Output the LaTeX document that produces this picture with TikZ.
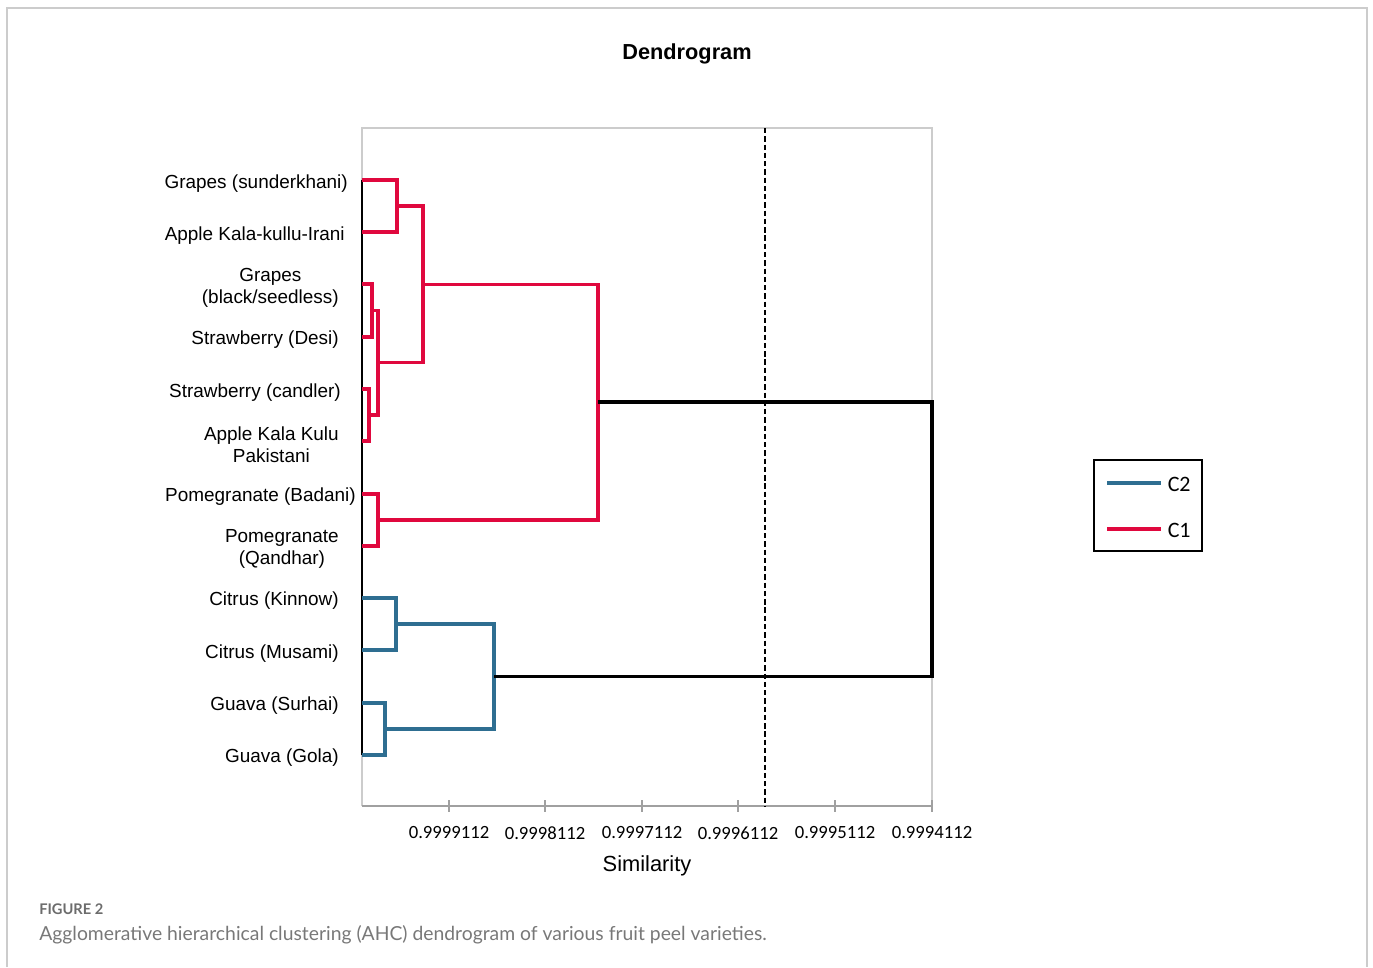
\documentclass[tikz,border=0pt]{standalone}
\usepackage{fontspec}
\setmainfont{Liberation Sans}
\newfontfamily\calfont{Carlito}
\newfontfamily\capfont{Lato}
\usepackage{tikz}
\usetikzlibrary{positioning}
\definecolor{cred}{RGB}{224,8,62}
\definecolor{cblue}{RGB}{46,110,145}
\definecolor{framegray}{RGB}{204,204,204}
\definecolor{axisgray}{RGB}{160,160,160}
\definecolor{capgray}{RGB}{120,120,120}

\begin{document}
\begin{tikzpicture}[x=0.75pt,y=-0.75pt,
  leaf/.style={anchor=east,inner sep=0pt,align=center,font=\fontsize{14.2}{16.5}\selectfont},
  redlink/.style={draw=cred,line width=2.6pt},
  bluelink/.style={draw=cblue,line width=2.6pt},
  rootlink/.style={draw=black,line width=2.6pt},
  ticklabel/.style={font=\calfont\fontsize{14}{16}\selectfont},
  legtext/.style={anchor=west,inner sep=0pt,font=\calfont\fontsize{16.5}{18}\selectfont}]

\useasboundingbox (0,0) rectangle (1373,967);
\draw[framegray,line width=1.5pt] (7,967) -- (7,8) -- (1367,8) -- (1367,967);

\node[font=\bfseries\fontsize{16.3}{19}\selectfont] (title) at (687,54) {Dendrogram};

% plot area
\draw[framegray,line width=1.4pt] (362,806) -- (362,128) -- (932,128) -- (932,806);
\draw[axisgray,line width=1.4pt] (362,806) -- (932,806);

\foreach \x/\v in {449/0.9999112,545/0.9998112,642/0.9997112,738/0.9996112,835/0.9995112,932/0.9994112}{
  \draw[axisgray,line width=1.4pt] (\x,800) -- (\x,812);
  \node[ticklabel] (t\x) at (\x,833) {\v};
}

\node[font=\fontsize{16.4}{19}\selectfont] (xlabel) at (647,866) {Similarity};

% leaves
\coordinate (l1) at (362,180);
\coordinate (l2) at (362,232);
\coordinate (l3) at (362,284);
\coordinate (l4) at (362,337);
\coordinate (l5) at (362,389);
\coordinate (l6) at (362,441);
\coordinate (l7) at (362,494);
\coordinate (l8) at (362,546);
\coordinate (l9) at (362,598);
\coordinate (l10) at (362,650);
\coordinate (l11) at (362,703);
\coordinate (l12) at (362,755);

\node[leaf] (n1) at (348,184) {Grapes (sunderkhani)};
\node[leaf] (n2) at (345,236) {Apple Kala-kullu-Irani};
\node[leaf] (n3) at (339,288) {Grapes\\(black/seedless)};
\node[leaf] (n4) at (339,340) {Strawberry (Desi)};
\node[leaf] (n5) at (341,393) {Strawberry (candler)};
\node[leaf] (n6) at (339,445) {Apple Kala Kulu\\Pakistani};
\node[leaf] (n7) at (356,497) {Pomegranate (Badani)};
\node[leaf] (n8) at (339,549) {Pomegranate\\(Qandhar)};
\node[leaf] (n9) at (339,601) {Citrus (Kinnow)};
\node[leaf] (n10) at (339,654) {Citrus (Musami)};
\node[leaf] (n11) at (339,706) {Guava (Surhai)};
\node[leaf] (n12) at (339,758) {Guava (Gola)};

% merges
\coordinate (m12) at (397,206);
\coordinate (m34) at (372,310.5);
\coordinate (m56) at (369,415);
\coordinate (m3456) at (378,362.75);
\coordinate (m1to6) at (423,284.4);
\coordinate (m78) at (378,520);
\coordinate (mred) at (598,402.2);
\coordinate (m910) at (396,624);
\coordinate (m1112) at (385,729);
\coordinate (mblue) at (494,676.5);
\coordinate (root) at (932,539.4);

\draw[black,line width=1.8pt] (l1) -- (l12);

\draw[dashed,line width=1.7pt,dash pattern=on 4pt off 2.2pt] (765,128) -- (765,806);

\draw[redlink] (l1) -| (m12) |- (l2);
\draw[redlink] (l3) -| (m34) |- (l4);
\draw[redlink] (l5) -| (m56) |- (l6);
\draw[redlink] (m34) -| (m3456) |- (m56);
\draw[redlink] (m12) -| (m1to6) |- (m3456);
\draw[redlink] (l7) -| (m78) |- (l8);
\draw[redlink] (m1to6) -| (mred) |- (m78);

\draw[bluelink] (l9) -| (m910) |- (l10);
\draw[bluelink] (l11) -| (m1112) |- (l12);
\draw[bluelink] (m910) -| (mblue) |- (m1112);

\draw[rootlink] (mred) -| (root) |- (mblue);

% legend
\draw[line width=1.9pt] (1094,460) rectangle (1202,551);
\draw[bluelink] (1107,483) -- (1161,483) node[legtext] (c2) at (1166,484) {C2};
\draw[redlink] (1107,529) -- (1161,529) node[legtext] (c1) at (1166,530) {C1};

% caption
\node[anchor=west,inner sep=0pt,text=capgray!90!black,font=\capfont\bfseries\fontsize{11}{12}\selectfont] (fig) at (39,909) {FIGURE 2};
\node[anchor=west,inner sep=0pt,text=capgray,font=\capfont\fontsize{14.5}{16}\selectfont] (cap) at (39,935) {Agglomerative hierarchical clustering (AHC) dendrogram of various fruit peel varieties.};

\end{tikzpicture}
\end{document}
